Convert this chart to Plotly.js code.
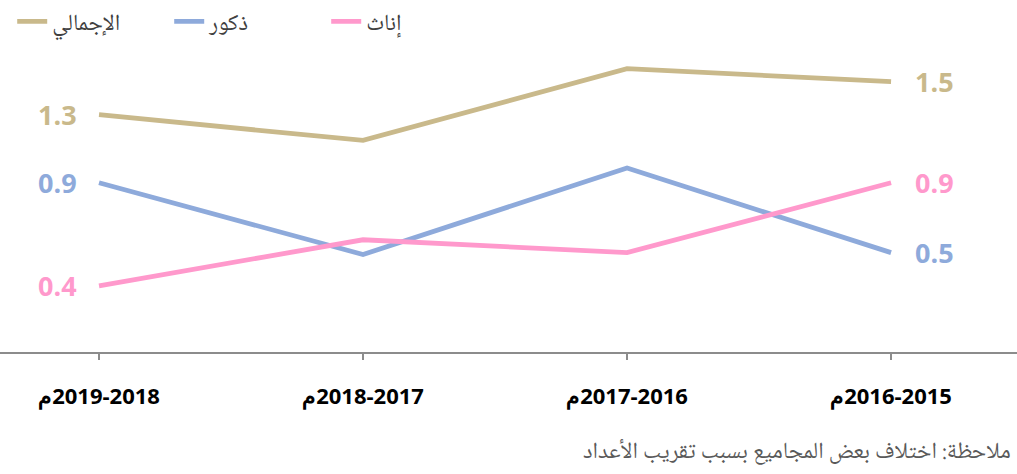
<!DOCTYPE html>
<html>
<head>
<meta charset="utf-8">
<script src="https://cdn.plot.ly/plotly-3.0.1.min.js"></script>
<style>html,body{margin:0;padding:0;background:#fff;}#chart{width:1017px;height:474px;}</style>
</head>
<body>
<div id="chart"></div>
<script>
// Categories (visible order as in the picture, right to left: 2015-2016 first)
const categories = ["م\u200E2016-2015", "م\u200E2017-2016", "م\u200E2018-2017", "م\u200E2019-2018"];
const seriesNames = ["الإجمالي", "ذكور", "إناث"];
const totalValues = [1.47, 1.54, 1.15, 1.29];
const maleValues = [0.54, 1.00, 0.53, 0.92];
const femaleValues = [0.92, 0.54, 0.61, 0.36];
const noteText = "ملاحظة: اختلاف بعض المجاميع بسبب تقريب الأعداد";

const colors = ["#c9b98b", "#8eaadb", "#ff99cc"];
const allValues = [totalValues, maleValues, femaleValues];
const arabicFont = "Noto Naskh Arabic, Noto Sans Arabic, DejaVu Sans";

const traces = allValues.map((vals, i) => ({
  type: "scatter",
  mode: "lines",
  x: categories,
  y: vals,
  name: seriesNames[i],
  line: {color: colors[i], width: 4.8},
  hoverinfo: "skip"
}));

const annotations = [];
allValues.forEach((vals, i) => {
  const last = vals.length - 1;
  annotations.push({
    x: categories[last], y: vals[last], xref: "x", yref: "y",
    text: vals[last].toFixed(1), showarrow: false,
    xanchor: "right", yanchor: "middle", xshift: -20,
    font: {family: "Open Sans", size: 27, color: colors[i], weight: "bold"}
  });
  annotations.push({
    x: categories[0], y: vals[0], xref: "x", yref: "y",
    text: vals[0].toFixed(1), showarrow: false,
    xanchor: "left", yanchor: "middle", xshift: 22,
    font: {family: "Open Sans", size: 27, color: colors[i], weight: "bold"}
  });
});
annotations.push({
  x: 1, y: 0, xref: "paper", yref: "paper", xanchor: "right", yanchor: "middle",
  yshift: -101, xshift: -4,
  text: noteText, showarrow: false,
  font: {family: arabicFont, size: 23, color: "#595959"}
});

const layout = {
  width: 1017, height: 474,
  margin: {l: 0, r: 0, t: 40, b: 122, autoexpand: false},
  paper_bgcolor: "#ffffff", plot_bgcolor: "#ffffff",
  showlegend: true,
  legend: {
    orientation: "h", x: 0.012, y: 1, xanchor: "left", yanchor: "top",
    yref: "container", xref: "container",
    entrywidth: 112, entrywidthmode: "pixels",
    font: {family: arabicFont, size: 23, color: "#404040"},
    itemclick: false
  },
  xaxis: {
    type: "category", categoryorder: "array", categoryarray: categories,
    range: [3.375, -0.477],
    showgrid: false, zeroline: false,
    showline: true, linecolor: "#8c8c8c", linewidth: 1.5,
    ticks: "outside", ticklen: 6, tickcolor: "#8c8c8c", tickwidth: 1.5,
    ticklabelstandoff: 18,
    tickfont: {family: "Open Sans", size: 22, color: "#000000", weight: "bold"}
  },
  yaxis: {
    range: [0, 1.696], visible: false, showgrid: false, zeroline: false, fixedrange: true
  },
  annotations: annotations
};

Plotly.newPlot("chart", traces, layout, {staticPlot: true, displayModeBar: false});
</script>
</body>
</html>
